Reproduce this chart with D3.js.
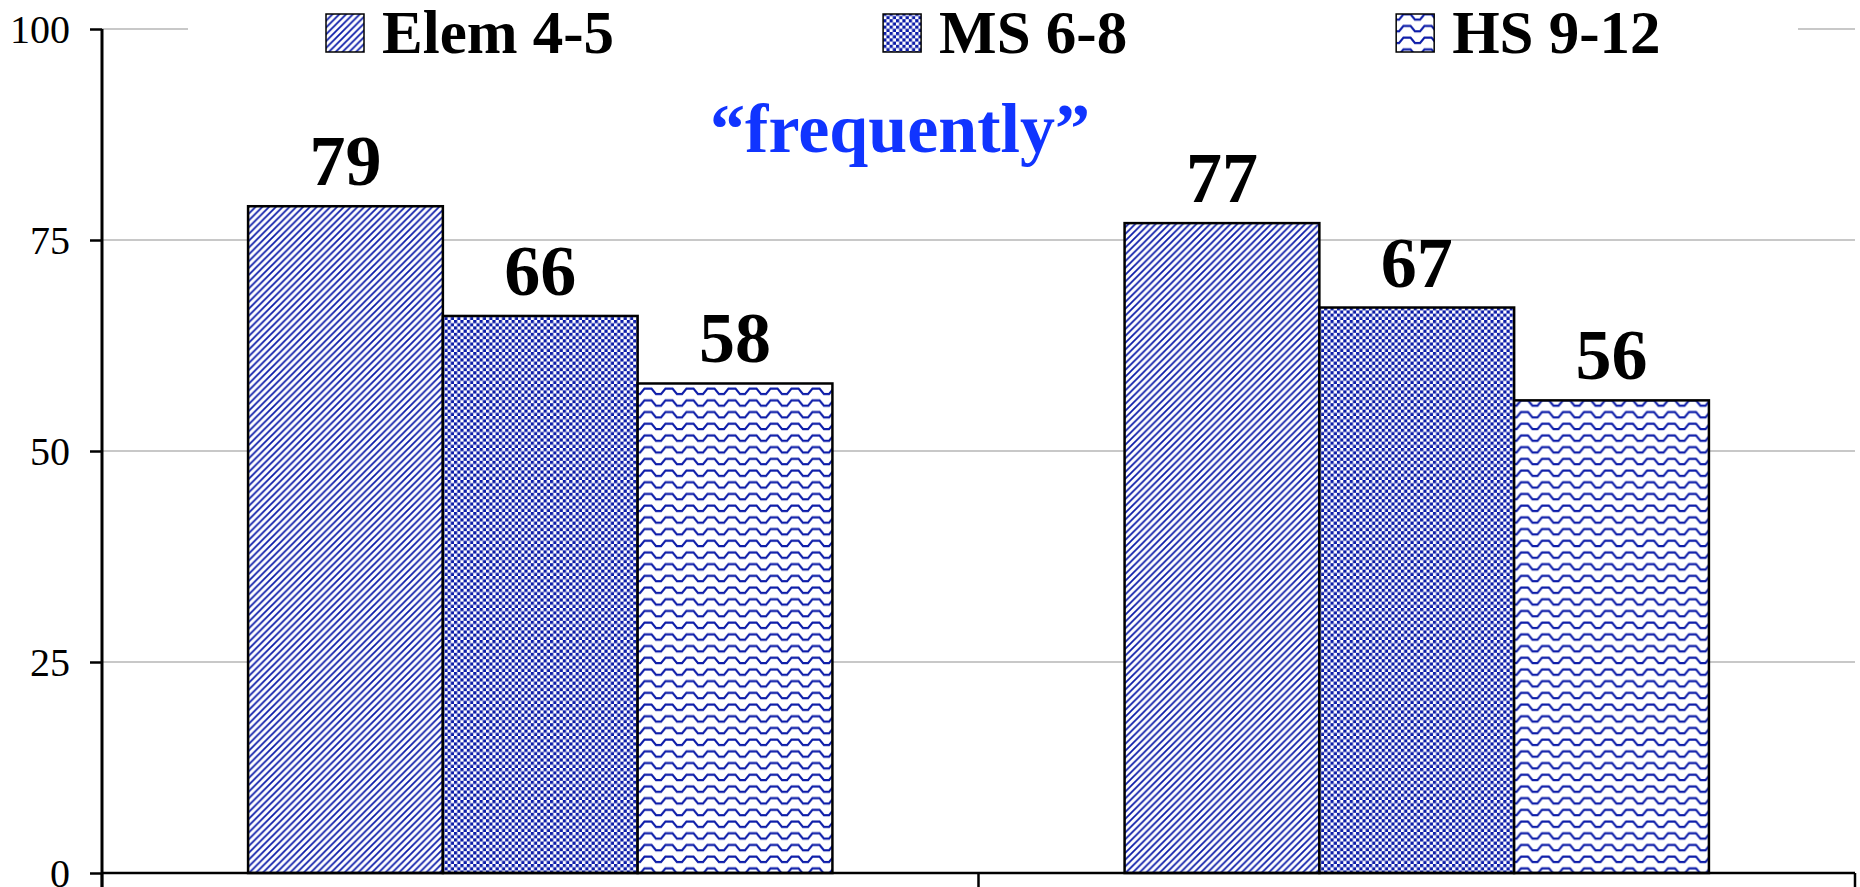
<!DOCTYPE html>
<html>
<head>
<meta charset="utf-8">
<script src="https://cdn.jsdelivr.net/npm/d3@7"></script>
<style>
  html, body { margin: 0; padding: 0; background: #fff; }
  svg { display: block; }
</style>
</head>
<body>
<svg id="chart" width="1860" height="887"></svg>
<script>
// ---- data ----
const categories = ["Group A", "Group B"];
const seriesNames = ["Elem 4-5", "MS 6-8", "HS 9-12"];
const elemValues = [79, 77];
const msValues = [66, 67];
const hsValues = [58, 56];
const yTickValues = [0, 25, 50, 75, 100];
const titleText = "\u201Cfrequently\u201D";

const seriesValues = [elemValues, msValues, hsValues];
const table = categories.map((c, i) => ({
  cat: c,
  vals: seriesNames.map((s, j) => ({ key: s, value: seriesValues[j][i] }))
}));

// ---- layout ----
const W = 1860, H = 887;
const mLeft = 102, mRight = 1855, mTop = 29, mBottom = 873;
const patBlue = "#0c1ca8";
const font = "'Liberation Serif', 'Times New Roman', serif";

const svg = d3.select("#chart");
const defs = svg.append("defs");

// patterns
const d1 = 6.8;
const p1 = defs.append("pattern").attr("id", "pat0").attr("patternUnits", "userSpaceOnUse")
  .attr("width", d1).attr("height", d1);
p1.append("rect").attr("width", d1).attr("height", d1).attr("fill", "#fff");
p1.append("path").attr("d", `M-1,1 L1,-1 M0,${d1} L${d1},0 M${d1 - 1},${d1 + 1} L${d1 + 1},${d1 - 1}`)
  .attr("stroke", patBlue).attr("stroke-width", 1.8);

const p2 = defs.append("pattern").attr("id", "pat1").attr("patternUnits", "userSpaceOnUse")
  .attr("width", 6.4).attr("height", 6.4);
p2.append("rect").attr("width", 6.4).attr("height", 6.4).attr("fill", "#fff");
p2.append("rect").attr("width", 3.2).attr("height", 3.2).attr("fill", patBlue);
p2.append("rect").attr("x", 3.2).attr("y", 3.2).attr("width", 3.2).attr("height", 3.2).attr("fill", patBlue);

const p3 = defs.append("pattern").attr("id", "pat2").attr("patternUnits", "userSpaceOnUse")
  .attr("width", 21).attr("height", 11.7);
p3.append("rect").attr("width", 21).attr("height", 11.7).attr("fill", "#fff");
p3.append("path").attr("d", "M0,2.5 L3.5,2.5 L8,8 L13,8 L17.5,2.5 L21,2.5")
  .attr("fill", "none").attr("stroke", patBlue).attr("stroke-width", 2.2);

const patFill = d3.scaleOrdinal().domain(seriesNames).range(["url(#pat0)", "url(#pat1)", "url(#pat2)"]);

// scales
const x0 = d3.scaleBand().domain(categories).range([mLeft, mRight]).paddingInner(0).paddingOuter(0);
const x1 = d3.scaleBand().domain(seriesNames).range([0, x0.bandwidth()]).paddingInner(0).paddingOuter(0.75);
const y = d3.scaleLinear().domain([0, 100]).range([mBottom, mTop]);

// gridlines
svg.append("g").selectAll("line").data(yTickValues.filter(v => v > 0)).join("line")
  .attr("x1", mLeft).attr("x2", mRight)
  .attr("y1", d => y(d)).attr("y2", d => y(d))
  .attr("stroke", "#c8c8c8").attr("stroke-width", 2);

// legend background (hides gridline under legend)
svg.append("rect").attr("x", 188).attr("y", 0).attr("width", 1798 - 188).attr("height", 62).attr("fill", "#fff");

// bars
const groups = svg.append("g").selectAll("g").data(table).join("g")
  .attr("transform", d => `translate(${x0(d.cat)},0)`);
groups.selectAll("rect").data(d => d.vals).join("rect")
  .attr("x", d => x1(d.key))
  .attr("width", x1.bandwidth())
  .attr("y", d => y(d.value))
  .attr("height", d => y(0) - y(d.value))
  .attr("fill", d => patFill(d.key))
  .attr("stroke", "#000").attr("stroke-width", 2.5);

// data labels
groups.selectAll("text").data(d => d.vals).join("text")
  .attr("x", d => x1(d.key) + x1.bandwidth() / 2)
  .attr("y", d => y(d.value) - 21)
  .attr("text-anchor", "middle")
  .attr("font-family", font).attr("font-weight", "bold").attr("font-size", 72)
  .attr("fill", "#000")
  .text(d => d.value);

// y axis
const yAxis = svg.append("g").attr("transform", `translate(${mLeft},0)`)
  .call(d3.axisLeft(y).tickValues(yTickValues).tickSize(12).tickPadding(20).tickFormat(d3.format("d")));
yAxis.select(".domain").attr("stroke", "#000").attr("stroke-width", 3).attr("d", `M0,${mTop}V${H}`);
yAxis.selectAll(".tick line").attr("stroke", "#000").attr("stroke-width", 2.5);
yAxis.selectAll(".tick text").attr("font-family", font).attr("font-size", 40).attr("fill", "#000")
  .attr("dy", "0.34em");

// x axis line and boundary ticks
svg.append("line").attr("x1", mLeft).attr("x2", mRight).attr("y1", y(0)).attr("y2", y(0))
  .attr("stroke", "#000").attr("stroke-width", 2.5);
const boundaries = categories.map(c => x0(c)).concat([x0.range()[1]]);
svg.append("g").selectAll("line").data(boundaries).join("line")
  .attr("x1", d => d).attr("x2", d => d).attr("y1", y(0)).attr("y2", H)
  .attr("stroke", "#000").attr("stroke-width", 2.5);

// title
svg.append("text").attr("x", 900).attr("y", 152).attr("text-anchor", "middle")
  .attr("font-family", font).attr("font-weight", "bold").attr("font-size", 70)
  .attr("fill", "#1034ff").text(titleText);

// legend
const legend = svg.append("g");
let lx = 326;
seriesNames.forEach((s, i) => {
  legend.append("rect").attr("x", lx).attr("y", 14).attr("width", 38).attr("height", 38)
    .attr("fill", patFill(s)).attr("stroke", "#000").attr("stroke-width", 1.5);
  const t = legend.append("text").attr("x", lx + 56).attr("y", 53)
    .attr("font-family", font).attr("font-weight", "bold").attr("font-size", 61)
    .attr("fill", "#000").text(s);
  lx = lx + 56 + t.node().getComputedTextLength() + 269;
});
</script>
</body>
</html>
